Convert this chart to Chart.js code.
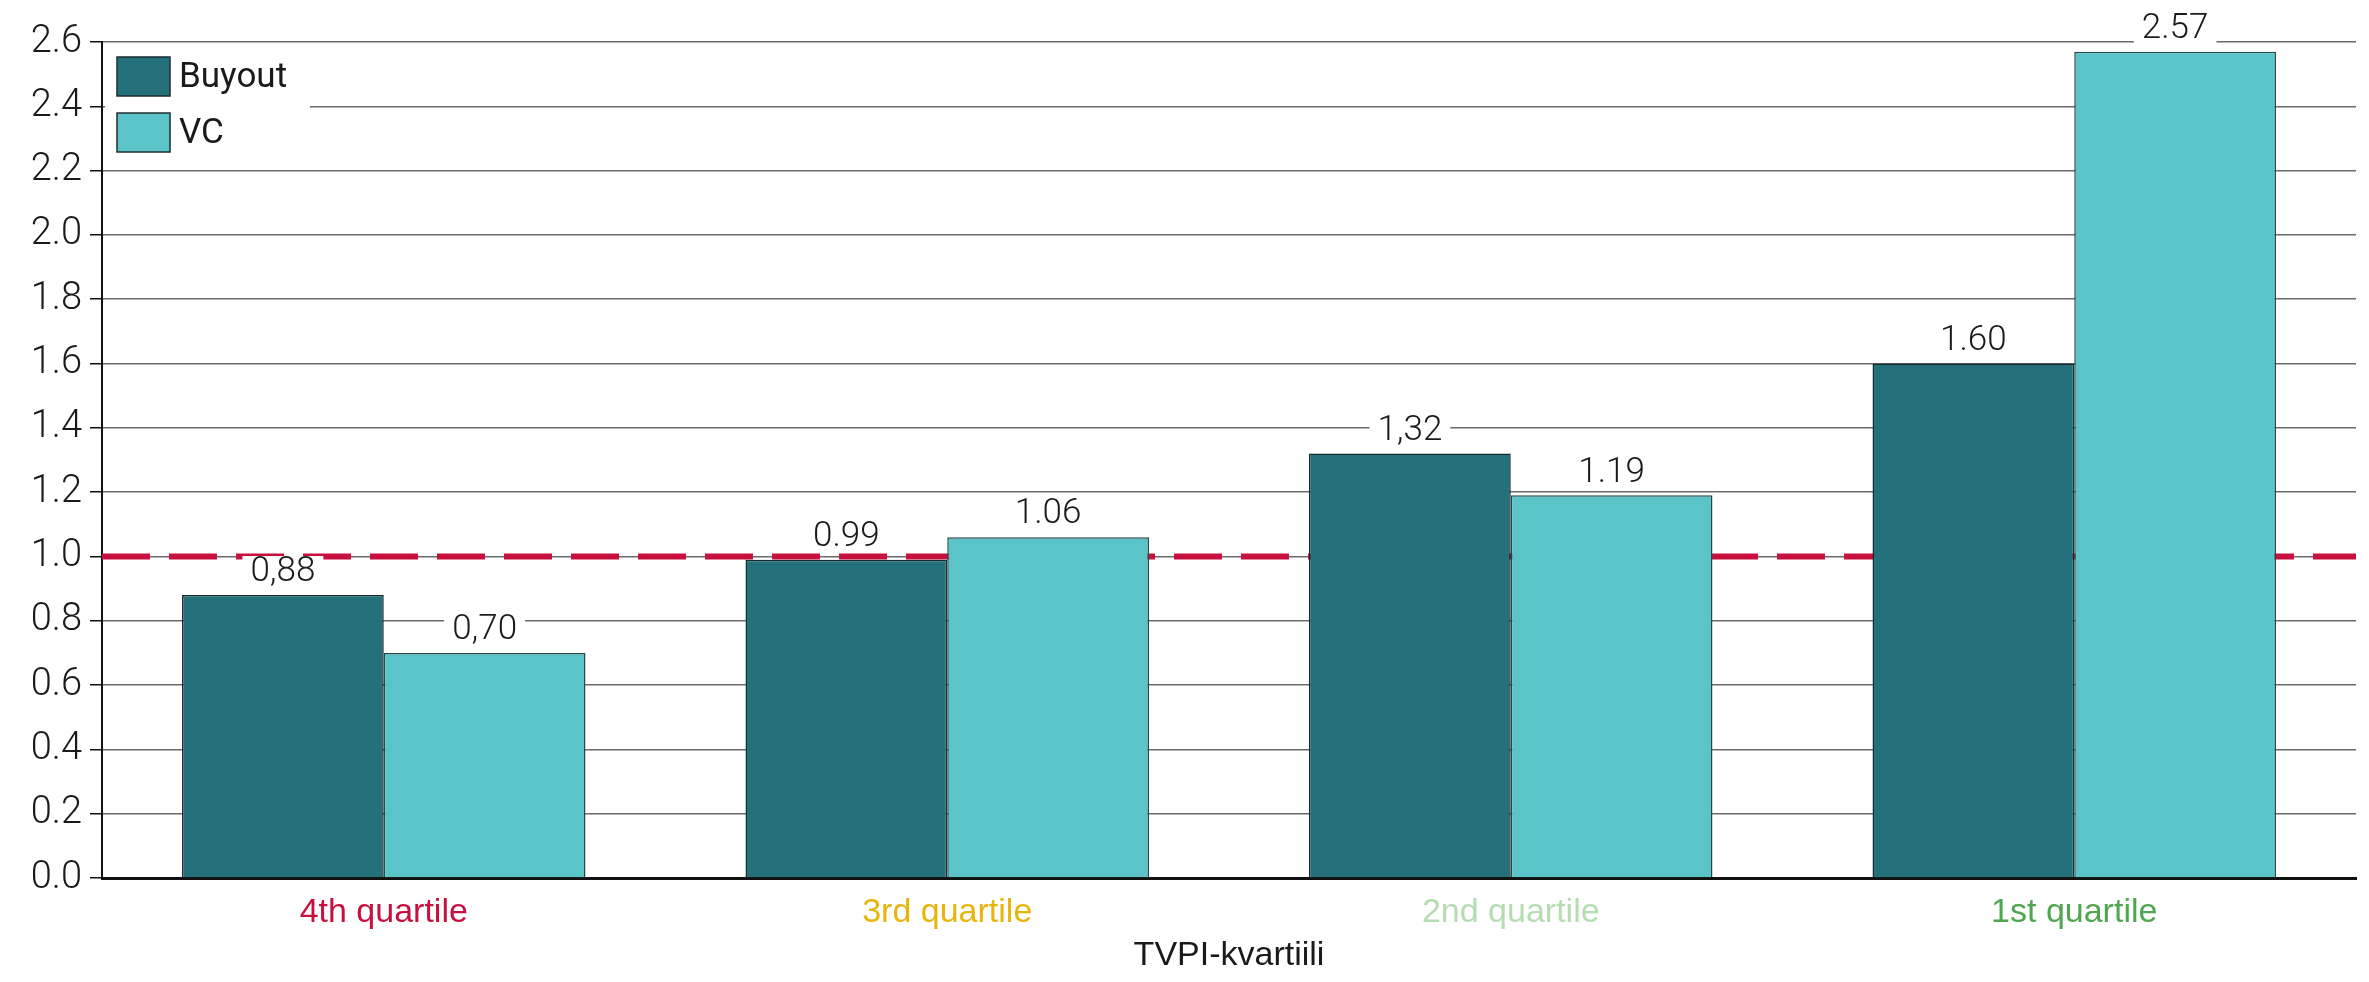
<!DOCTYPE html>
<html>
<head>
<meta charset="utf-8">
<script src="https://cdn.jsdelivr.net/npm/chart.js@4"></script>
<style>
  html, body { margin: 0; padding: 0; background: #fff; }
  #wrap { width: 2369px; height: 982px; }
</style>
</head>
<body>
<div id="wrap"><canvas id="chart"></canvas></div>
<script>
// Datos
const CATEGORIES = ["4th quartile", "3rd quartile", "2nd quartile", "1st quartile"];
const CATEGORY_COLORS = ["#c8103e", "#e8b50c", "#b6ddb1", "#4fa64f"];
const SERIES_NAMES = ["Buyout", "VC"];
const BUYOUT = [0.88, 0.99, 1.32, 1.60];
const VC = [0.70, 1.06, 1.19, 2.57];
const BUYOUT_LABELS = ["0,88", "0.99", "1,32", "1.60"];
const VC_LABELS = ["0,70", "1.06", "1.19", "2.57"];
const REF_LINE = 1.0;
const Y_MIN = 0, Y_MAX = 2.6, Y_STEP = 0.2;
const X_TITLE = "TVPI-kvartiili";

const NUM_FONT = "Roboto";
const NARROW_FONT = '"Liberation Sans Narrow", "Liberation Sans", sans-serif';
const SERIES_COLORS = ["#24717b", "#5bc4c9"];

// línea de referencia punteada en 1.0 (debajo de las barras)
const refLine = {
  id: "refLine",
  beforeDatasetsDraw(chart) {
    const { ctx, chartArea: a, scales: { y } } = chart;
    const py = y.getPixelForValue(REF_LINE);
    ctx.save();
    ctx.strokeStyle = "#c8103e";
    ctx.lineWidth = 6;
    ctx.setLineDash([48, 19]);
    ctx.beginPath();
    ctx.moveTo(a.left, py);
    ctx.lineTo(a.right, py);
    ctx.stroke();
    ctx.restore();
  },
};

// etiquetas de valor con fondo blanco
const valueLabels = {
  id: "valueLabels",
  afterDatasetsDraw(chart) {
    const { ctx } = chart;
    ctx.save();
    ctx.font = `300 35px ${NUM_FONT}`;
    ctx.textAlign = "center";
    ctx.textBaseline = "bottom";
    chart.data.datasets.forEach((ds, di) => {
      chart.getDatasetMeta(di).data.forEach((bar, i) => {
        const txt = ds.valueLabels[i];
        const w = ctx.measureText(txt).width;
        const yb = bar.y - 5;
        ctx.fillStyle = "#fff";
        ctx.fillRect(bar.x - w / 2 - 8, yb - 34, w + 16, 32);
        ctx.fillStyle = "#1a1a1a";
        ctx.fillText(txt, bar.x, yb);
      });
    });
    ctx.restore();
  },
};

// leyenda dentro del área del gráfico
const innerLegend = {
  id: "innerLegend",
  afterDraw(chart) {
    const { ctx, chartArea: a } = chart;
    ctx.save();
    ctx.fillStyle = "#fff";
    ctx.fillRect(a.left + 3, a.top + 8, 205, 112);
    ctx.font = `400 35px ${NUM_FONT}`;
    ctx.textBaseline = "middle";
    chart.data.datasets.forEach((ds, i) => {
      const bx = a.left + 15, by = a.top + 15 + i * 56;
      ctx.fillStyle = ds.backgroundColor;
      ctx.fillRect(bx, by, 53, 39);
      ctx.strokeStyle = "#1f2e30";
      ctx.lineWidth = 1.5;
      ctx.strokeRect(bx, by, 53, 39);
      ctx.fillStyle = "#1a1a1a";
      ctx.fillText(ds.label, bx + 62, by + 21);
    });
    ctx.restore();
  },
};

new Chart(document.getElementById("chart"), {
  type: "bar",
  data: {
    labels: CATEGORIES,
    datasets: [
      { label: SERIES_NAMES[0], data: BUYOUT, valueLabels: BUYOUT_LABELS,
        backgroundColor: SERIES_COLORS[0], borderColor: "#142a2d", borderWidth: 1.5,
        categoryPercentage: 0.716, barPercentage: 1.0 },
      { label: SERIES_NAMES[1], data: VC, valueLabels: VC_LABELS,
        backgroundColor: SERIES_COLORS[1], borderColor: "#24484a", borderWidth: 1.5,
        categoryPercentage: 0.716, barPercentage: 1.0 },
    ],
  },
  options: {
    responsive: true, maintainAspectRatio: false, animation: false, devicePixelRatio: 1,
    layout: { padding: { top: 42, right: 13, left: 0, bottom: 0 } },
    plugins: { legend: { display: false }, tooltip: { enabled: false } },
    scales: {
      x: {
        grid: { display: false },
        border: { color: "#111", width: 3 },
        ticks: { color: ctx => CATEGORY_COLORS[ctx.index], font: { family: NARROW_FONT, size: 34 }, padding: 6 },
        title: { display: true, text: X_TITLE, color: "#1a1a1a", font: { family: NARROW_FONT, size: 34 }, padding: { top: 2, bottom: 6 } },
        afterFit: s => { s.height = 104; },
      },
      y: {
        min: Y_MIN, max: Y_MAX,
        grid: { color: "#6a6a6a", lineWidth: 1.5, tickLength: 12, tickColor: "#111" },
        border: { color: "#111", width: 2 },
        ticks: { stepSize: Y_STEP, color: "#1a1a1a", font: { family: NUM_FONT, size: 38, weight: 300 },
                 padding: 8, callback: v => v.toFixed(1) },
        afterFit: s => { s.width = 102; },
      },
    },
  },
  plugins: [refLine, valueLabels, innerLegend],
});
</script>
</body>
</html>
